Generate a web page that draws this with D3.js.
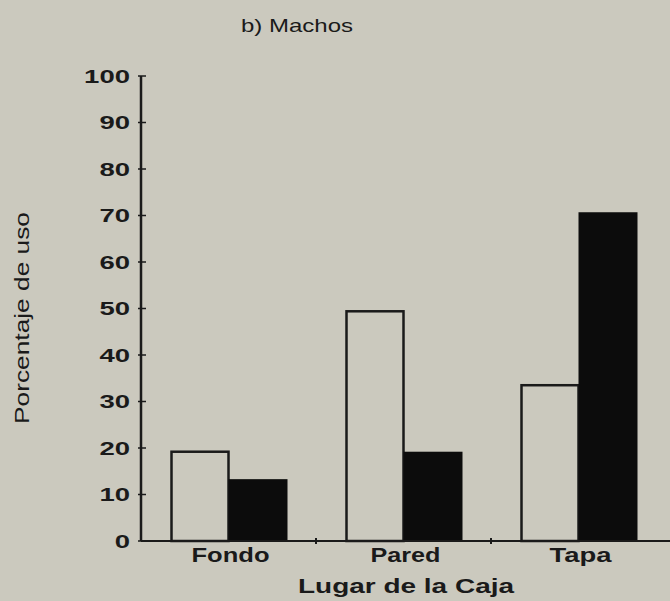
<!DOCTYPE html>
<html><head><meta charset="utf-8">
<script src="https://cdn.jsdelivr.net/npm/d3@7"></script>
<style>body{margin:0;background:#cbc9be;}svg{display:block;}</style>
</head><body>
<svg id="c" width="670" height="601"></svg>
<script>
const categories = ["Fondo", "Pared", "Tapa"];
const seriesWhite = [19.2, 49.4, 33.5];
const seriesBlack = [13.3, 19.2, 70.7];
const yTicks = [0,10,20,30,40,50,60,70,80,90,100];

const svg = d3.select("#c");
const W = 670, H = 601;
const FONT = "Liberation Sans, Arial, sans-serif";
svg.append("rect").attr("width", W).attr("height", H).attr("fill", "#cbc9be");
const base = 541;
const x = d3.scaleBand().domain(categories).range([141, 666]).padding(0);
const y = d3.scaleLinear().domain([0, 100]).range([base, 76]);
const bw = 57;
const ink = "#1a1a1a";

const g = svg.append("g");
categories.forEach((c, i) => {
  const cx = x(c) + x.bandwidth() / 2;
  g.append("rect").attr("x", cx - bw).attr("y", y(seriesWhite[i]))
    .attr("width", bw).attr("height", base - y(seriesWhite[i]))
    .attr("fill", "none").attr("stroke", ink).attr("stroke-width", 2.5);
  g.append("rect").attr("x", cx).attr("y", y(seriesBlack[i]))
    .attr("width", bw + 2).attr("height", base - y(seriesBlack[i]))
    .attr("fill", "#0c0c0c");
});

// Y axis
const ya = svg.append("g").attr("transform", `translate(141,0)`)
  .call(d3.axisLeft(y).tickValues(yTicks).tickSize(0).tickPadding(11));
ya.select(".domain").remove();
ya.selectAll("text").attr("font-family", FONT)
  .attr("font-size", 19).attr("font-weight", "bold").attr("fill", ink)
  .attr("textLength", d => String(d).length * 15.3)
  .attr("lengthAdjust", "spacingAndGlyphs");
svg.append("line").attr("x1", 141).attr("x2", 141).attr("y1", y(100)).attr("y2", base)
  .attr("stroke", ink).attr("stroke-width", 2.5);
svg.selectAll(".yt").data(yTicks).enter().append("line")
  .attr("x1", 138).attr("x2", 146).attr("y1", d => y(d)).attr("y2", d => y(d))
  .attr("stroke", ink).attr("stroke-width", 1.5);

// X axis
svg.append("line").attr("x1", 141).attr("x2", 670).attr("y1", base).attr("y2", base)
  .attr("stroke", ink).attr("stroke-width", 2);
const xa = svg.append("g").attr("transform", `translate(0,${base})`)
  .call(d3.axisBottom(x).tickSize(0).tickPadding(7));
xa.select(".domain").remove();
const catLen = {Fondo: 78, Pared: 70, Tapa: 62};
xa.selectAll("text").attr("font-family", FONT)
  .attr("font-size", 20).attr("font-weight", "bold").attr("fill", ink)
  .attr("dx", 2)
  .attr("textLength", d => catLen[d]).attr("lengthAdjust", "spacingAndGlyphs");
svg.selectAll(".xt").data(categories.slice(1)).enter().append("line")
  .attr("x1", d => x(d)).attr("x2", d => x(d)).attr("y1", base - 3).attr("y2", base + 3)
  .attr("stroke", ink).attr("stroke-width", 2);

// Titles
svg.append("text").attr("x", 297).attr("y", 32).attr("text-anchor", "middle")
  .attr("font-family", FONT).attr("font-size", 19)
  .attr("textLength", 112).attr("lengthAdjust", "spacingAndGlyphs")
  .attr("fill", ink).text("b) Machos");
svg.append("text").attr("x", 406).attr("y", 593).attr("text-anchor", "middle")
  .attr("font-family", FONT).attr("font-size", 21)
  .attr("textLength", 216).attr("lengthAdjust", "spacingAndGlyphs")
  .attr("font-weight", "bold").attr("fill", ink).text("Lugar de la Caja");
svg.append("text").attr("transform", "translate(29,318) rotate(-90)").attr("text-anchor", "middle")
  .attr("font-family", FONT).attr("font-size", 20)
  .attr("textLength", 212).attr("lengthAdjust", "spacingAndGlyphs")
  .attr("fill", ink).text("Porcentaje de uso");
</script>
</body></html>
